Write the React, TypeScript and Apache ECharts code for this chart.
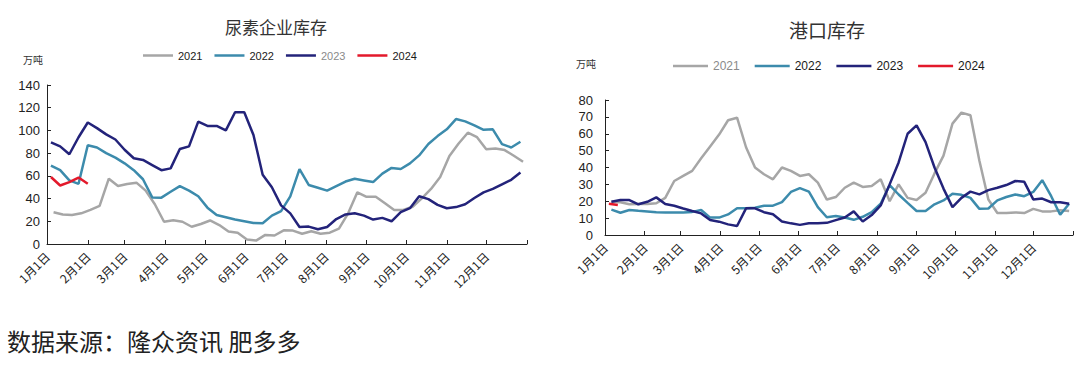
import React, { useEffect, useRef } from "react";
import * as echarts from "echarts";

// ---- axis categories ----
const monthLabels = ["1月1日", "2月1日", "3月1日", "4月1日", "5月1日", "6月1日", "7月1日", "8月1日", "9月1日", "10月1日", "11月1日", "12月1日"];
const monthStartDays = [0, 31, 59, 90, 120, 151, 181, 212, 243, 273, 304, 334];
const yearEndDay = 365;
const years = ["2021", "2022", "2023", "2024"];
const colors = ["#A6A6A6", "#3C8BAC", "#23237A", "#E3192B"];

// ---- left: 尿素企业库存 (万吨), weekly ----
const plantStartDay = [5, 3, 3, 3];
const plant2021 = [28, 26, 25.5, 27, 30, 33.5, 57.5, 51, 52.8, 54, 47, 35, 19.6, 21, 19.6, 15.2, 17.6, 20.7, 16.7, 11, 10, 4, 3, 8, 7.5, 12, 11.8, 9, 11.2, 9, 10, 13.5, 27, 45.5, 41.6, 41.6, 35.8, 30, 30, 32.8, 40.2, 48.5, 59, 77.5, 88.5, 98, 94, 83.5, 84, 82.7, 77.7, 72.4];
const plant2022 = [69, 65, 56, 53, 87, 85, 80, 76, 71, 65, 57, 41, 40.8, 46, 51, 47, 42, 32, 25.5, 23.5, 21.5, 20, 18.5, 18.2, 25, 29, 42, 66, 52, 49.5, 47, 51, 55, 57.5, 56, 54.5, 62, 67, 66, 71, 78, 88, 95, 101, 110, 108, 104.5, 100.5, 101, 88, 85, 90];
const plant2023 = [89.5, 86, 79, 94, 107, 102, 96.5, 92, 83, 75.5, 74, 69.5, 65, 66.6, 83.6, 86, 107.7, 104, 104, 100, 116, 116, 96, 61, 50, 34, 27, 15, 15.3, 13, 15, 22, 26, 27, 25, 21.5, 23, 20, 28, 31.5, 42, 39.5, 34.5, 31.5, 32.5, 35, 40.5, 45.5, 48.5, 52.5, 56.5, 63];
const plant2024 = [59, 51.5, 54.5, 58.5, 53];

// ---- right: 港口库存 (万吨), weekly ----
const portStartDay = [5, 5, 5, 3];
const port2021 = [19.7, 19.4, 18.2, 18.4, 18.4, 18.8, 22, 32, 35, 38, 45.5, 52.5, 59.5, 68, 69.5, 52, 40, 36, 33, 40, 38, 35, 36, 31, 21, 22.5, 28, 31, 28.5, 29, 33, 20, 30, 22, 20.7, 25, 36.5, 47, 66, 72.5, 71, 44, 21, 13, 13, 13.4, 13, 15.5, 14, 14, 14.6, 14.2];
const port2022 = [15, 13.2, 14.8, 14.3, 13.9, 13.5, 13.4, 13.4, 13.4, 13.7, 14.8, 10.3, 10.3, 12.2, 15.8, 15.8, 16.2, 17.3, 17.4, 19.5, 25.5, 27.8, 25.7, 16.5, 10.5, 11.3, 10.4, 9, 10.8, 13.5, 18.5, 29.6, 24, 19, 14.2, 14.2, 18.2, 20.5, 24.5, 23.8, 22, 15.5, 15.7, 20.5, 22.5, 24, 23, 25.5, 32.5, 23, 12, 18.5];
const port2023 = [19.7, 20.7, 20.7, 18.2, 19.7, 22.3, 18.4, 17.3, 15.7, 14.2, 12.8, 8.9, 7.9, 6.3, 5.3, 15.8, 15.8, 13.5, 12.3, 8, 6.9, 6, 6.9, 6.9, 7.2, 8.8, 10.4, 14, 8, 11.8, 17.5, 30, 43, 60, 65, 55, 40, 27.5, 16.5, 22, 25.7, 24.1, 26.6, 28, 29.6, 32, 31.5, 21.1, 21.6, 19.4, 19.4, 18.5];
const port2024 = [18.5, 17.8];

const plantValues = [plant2021, plant2022, plant2023, plant2024];
const portValues = [port2021, port2022, port2023, port2024];

const weekly = (startDay: number, vals: number[]) => vals.map((v, i) => [startDay + 7 * i, v]);

const NUM_FONT = "'Liberation Sans', 'Noto Sans CJK SC', sans-serif";
const CJK_FONT = "'Noto Sans CJK SC', sans-serif";

function xAxisFor(gridIndex: number) {
  return {
    type: "value",
    gridIndex,
    min: 0,
    max: yearEndDay,
    axisLine: { show: true, lineStyle: { color: "#222", width: 1 } },
    axisTick: { show: true, inside: true, length: 4, customValues: [...monthStartDays, yearEndDay], lineStyle: { color: "#222" } },
    axisLabel: {
      show: true,
      customValues: monthStartDays,
      rotate: 45,
      margin: 10,
      fontSize: 12,
      color: "#222",
      fontFamily: CJK_FONT,
      formatter: (v: number) => monthLabels[monthStartDays.indexOf(Math.round(v))] ?? "",
    },
    splitLine: { show: false },
  };
}

function yAxisFor(gridIndex: number, max: number, interval: number, margin: number) {
  return {
    type: "value",
    gridIndex,
    min: 0,
    max,
    interval,
    axisLine: { show: true, lineStyle: { color: "#222", width: 1 } },
    axisTick: { show: true, inside: true, length: 4, lineStyle: { color: "#222" } },
    axisLabel: { fontSize: 13, color: "#222", margin, fontFamily: NUM_FONT },
    splitLine: { show: false },
  };
}

function legendData(grayIdx: number) {
  return years.map((y, i) => ({ name: y, icon: "rect", textStyle: { color: i === grayIdx ? "#8a8a8a" : "#1a1a1a" } }));
}

export default function App() {
  const ref = useRef<HTMLDivElement>(null);
  useEffect(() => {
    if (!ref.current) return;
    const chart = echarts.init(ref.current, undefined, { renderer: "svg" });
    const series: any[] = [];
    years.forEach((y, i) => {
      series.push({
        name: y,
        type: "line",
        xAxisIndex: 0,
        yAxisIndex: 0,
        data: weekly(plantStartDay[i], plantValues[i]),
        symbol: "none",
        lineStyle: { width: 2.5, color: colors[i] },
        itemStyle: { color: colors[i] },
        z: 2 + i,
      });
    });
    years.forEach((y, i) => {
      series.push({
        name: y,
        type: "line",
        xAxisIndex: 1,
        yAxisIndex: 1,
        data: weekly(portStartDay[i], portValues[i]),
        symbol: "none",
        lineStyle: { width: 2.5, color: colors[i] },
        itemStyle: { color: colors[i] },
        z: 2 + i,
      });
    });
    chart.setOption({
      animation: false,
      backgroundColor: "#ffffff",
      title: [
        { text: "尿素企业库存", left: 271, top: 21, textAlign: "center", textVerticalAlign: "middle", textStyle: { fontSize: 17, fontWeight: "normal", color: "#333", fontFamily: CJK_FONT } } as any,
        { text: "港口库存", left: 822, top: 24, textAlign: "center", textVerticalAlign: "middle", textStyle: { fontSize: 19, fontWeight: "normal", color: "#333", fontFamily: CJK_FONT } } as any,
      ],
      legend: [
        {
          left: 138, top: 45, itemWidth: 30, itemHeight: 2.5, itemGap: 12,
          textStyle: { fontSize: 11, fontFamily: NUM_FONT },
          data: legendData(2),
        },
        {
          left: 668, top: 55, itemWidth: 35, itemHeight: 2.5, itemGap: 15,
          textStyle: { fontSize: 12, fontFamily: NUM_FONT },
          data: legendData(0),
        },
      ],
      grid: [
        { left: 47, top: 85, width: 480, height: 159, containLabel: false },
        { left: 605, top: 100, width: 468, height: 135, containLabel: false },
      ],
      xAxis: [xAxisFor(0), xAxisFor(1)],
      yAxis: [yAxisFor(0, 140, 20, 7), yAxisFor(1, 80, 10, 12)],
      series,
      graphic: [
        { type: "text", left: 23, top: 54, style: { text: "万吨", fontSize: 10, fill: "#333", fontFamily: CJK_FONT } },
        { type: "text", left: 576, top: 58, style: { text: "万吨", fontSize: 10, fill: "#333", fontFamily: CJK_FONT } },
        { type: "text", left: 7, top: 328, style: { text: "数据来源：隆众资讯 肥多多", fontSize: 24, fill: "#222", fontFamily: CJK_FONT } },
      ],
    });
    return () => chart.dispose();
  }, []);
  return <div ref={ref} style={{ position: "absolute", left: 0, top: 0, width: 1080, height: 366 }} />;
}
